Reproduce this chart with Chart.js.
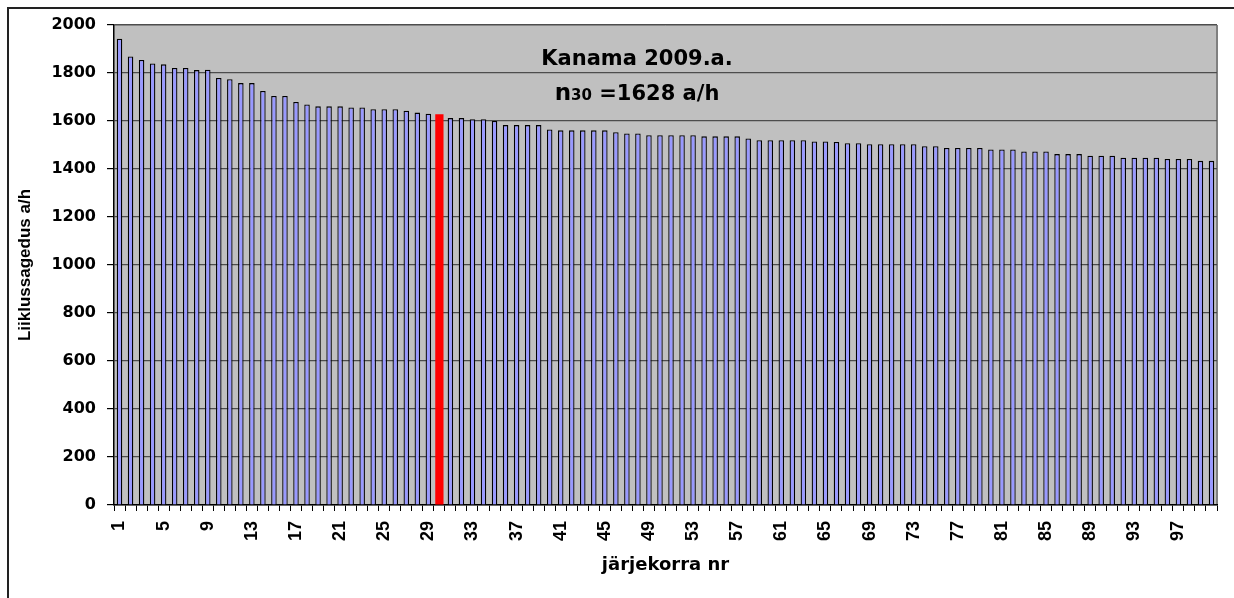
<!DOCTYPE html>
<html>
<head>
<meta charset="utf-8">
<script src="https://cdn.jsdelivr.net/npm/chart.js@4/dist/chart.umd.min.js"></script>
<style>
  html, body { margin: 0; padding: 0; background: #fff; overflow: hidden; }
  #chart { display: block; }
</style>
</head>
<body>
<canvas id="chart" width="1234" height="598"></canvas>
<script>
// järjekorra nr 1..100
const ORDER = Array.from({ length: 100 }, (_, i) => String(i + 1));

// liiklussagedus a/h, loetud pildilt
const VALUES = [
  1943, 1869, 1854, 1840, 1836, 1821, 1821, 1812, 1814, 1779,
  1774, 1758, 1758, 1725, 1704, 1704, 1679, 1669, 1661, 1661,
  1661, 1656, 1656, 1649, 1649, 1649, 1643, 1635, 1630, 1628,
  1612, 1612, 1607, 1607, 1600, 1583, 1583, 1583, 1583, 1565,
  1561, 1561, 1561, 1561, 1561, 1553, 1548, 1548, 1541, 1541,
  1541, 1541, 1541, 1536, 1536, 1536, 1536, 1527, 1520, 1520,
  1520, 1520, 1520, 1515, 1515, 1513, 1507, 1507, 1503, 1503,
  1503, 1503, 1503, 1495, 1495, 1488, 1488, 1488, 1488, 1481,
  1481, 1481, 1473, 1473, 1473, 1462, 1462, 1462, 1455, 1455,
  1455, 1447, 1447, 1447, 1447, 1442, 1442, 1442, 1434, 1434,
];

const HIGHLIGHT = 29;          // n30
const Y_TICKS = [0, 2000, 200]; // min, max, samm
const TITLE_1 = 'Kanama 2009.a.';
const TITLE_2 = ['n', '30', ' =1628 a/h'];

// raam ümber kogu pildi + hall joonise taust
const plotBg = {
  id: 'plotBg',
  beforeDraw(chart) {
    const { ctx, chartArea: a } = chart;
    ctx.save();
    ctx.strokeStyle = '#222';
    ctx.lineWidth = 2;
    ctx.beginPath();
    ctx.moveTo(8, chart.height);
    ctx.lineTo(8, 8);
    ctx.lineTo(chart.width, 8);
    ctx.stroke();

    ctx.fillStyle = '#c0c0c0';
    ctx.fillRect(a.left, a.top, a.right - a.left, a.bottom - a.top);
    ctx.strokeStyle = '#9a9a9a';
    ctx.lineWidth = 1;
    ctx.beginPath();
    ctx.moveTo(a.left, a.top + 0.5);
    ctx.lineTo(a.right, a.top + 0.5);
    ctx.stroke();
    ctx.strokeStyle = '#808080';
    ctx.lineWidth = 2;
    ctx.beginPath();
    ctx.moveTo(a.right, a.top);
    ctx.lineTo(a.right, a.bottom);
    ctx.stroke();
    ctx.restore();
  },
};

const annot = {
  id: 'annot',
  afterDatasetsDraw(chart) {
    const { ctx, chartArea: a } = chart;
    const cx = a.left + 523;
    ctx.save();
    ctx.fillStyle = '#000';
    ctx.textBaseline = 'alphabetic';
    ctx.textAlign = 'center';
    ctx.font = 'bold 21px "DejaVu Sans"';
    ctx.fillText(TITLE_1, cx, a.top + 40);

    // teine rida: n, alaindeks 30, ülejäänu
    const fonts = ['bold 23px "DejaVu Sans"', 'bold 15px "DejaVu Sans"', 'bold 21px "DejaVu Sans"'];
    const widths = TITLE_2.map((t, i) => { ctx.font = fonts[i]; return ctx.measureText(t).width; });
    let x = cx - widths.reduce((s, w) => s + w, 0) / 2;
    ctx.textAlign = 'left';
    TITLE_2.forEach((t, i) => {
      ctx.font = fonts[i];
      ctx.fillText(t, x, a.top + 75);
      x += widths[i];
    });
    ctx.restore();
  },
};

new Chart(document.getElementById('chart'), {
  type: 'bar',
  data: {
    labels: ORDER,
    datasets: [
      {
        data: VALUES.map((v, i) => (i === HIGHLIGHT ? null : v)),
        backgroundColor: '#9999ff',
        borderColor: '#000',
        borderWidth: 1.3,
        barPercentage: 0.5,
        categoryPercentage: 1,
        grouped: false,
      },
      {
        data: VALUES.map((v, i) => (i === HIGHLIGHT ? v : null)),
        backgroundColor: '#ff0000',
        borderColor: '#ff0000',
        borderWidth: 0,
        barPercentage: 0.75,
        categoryPercentage: 1,
        grouped: false,
      },
    ],
  },
  options: {
    responsive: false,
    animation: false,
    layout: { padding: { left: 0, top: 25, right: 17, bottom: 18 } },
    plugins: { legend: { display: false }, tooltip: { enabled: false } },
    scales: {
      x: {
        afterFit(s) { s.height = 75; s.paddingLeft = 0; s.paddingRight = 0; },
        border: { color: '#000', width: 1.5 },
        grid: { offset: true, drawOnChartArea: false, drawTicks: true, tickLength: 6, tickColor: '#000', lineWidth: 1 },
        ticks: {
          autoSkip: false,
          minRotation: 90,
          maxRotation: 90,
          padding: 10,
          color: '#000',
          font: { family: '"Liberation Sans", Arial', size: 18, weight: 'bold' },
          callback(v, i) { return i % 4 === 0 ? ORDER[i] : ''; },
        },
        title: {
          display: true,
          text: 'järjekorra nr',
          color: '#000',
          padding: { top: 2, bottom: 4 },
          font: { family: '"DejaVu Sans"', size: 18, weight: 'bold' },
        },
      },
      y: {
        min: Y_TICKS[0],
        max: Y_TICKS[1],
        afterFit(s) { s.width = 114; },
        border: { color: '#000', width: 1.5 },
        grid: { color: '#4d4d4d', lineWidth: 1.2, tickLength: 7, tickColor: '#000' },
        ticks: {
          stepSize: Y_TICKS[2],
          padding: 11,
          color: '#000',
          font: { family: '"DejaVu Sans"', size: 16, weight: 'bold' },
          callback: v => String(v),
        },
        title: {
          display: true,
          text: 'Liiklussagedus a/h',
          color: '#000',
          padding: { top: 15, bottom: 0 },
          font: { family: '"Liberation Sans", Arial', size: 17, weight: 'bold' },
        },
      },
    },
  },
  plugins: [plotBg, annot],
});
</script>
</body>
</html>
